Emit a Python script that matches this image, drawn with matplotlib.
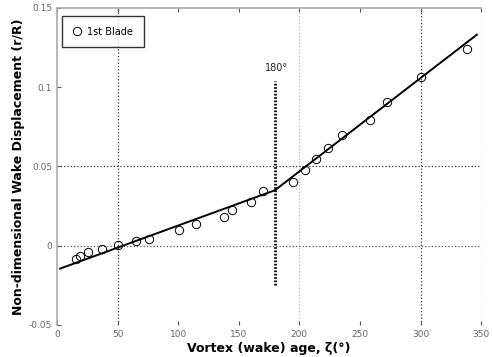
import numpy as np
import matplotlib
matplotlib.use('Agg')
import matplotlib.pyplot as plt

# measured wake displacement, 1st blade
age = [15.4, 19, 25.8, 36.8, 50, 64.9, 76, 101, 114.3, 137.7, 144.5, 159.7,
       169.6, 194.8, 204.5, 213.5, 223.2, 235.5, 258.6, 272.3, 300.6, 338.6]
disp = [-0.0082, -0.0065, -0.004, -0.0019, 0.0002, 0.0027, 0.0044, 0.0097,
        0.0139, 0.018, 0.0227, 0.0275, 0.0343, 0.0404, 0.0475, 0.0545,
        0.0616, 0.070, 0.079, 0.0907, 0.1064, 0.1243]

# piecewise linear fit
fit_x = [2.5, 179.7, 346.5]
fit_y = [-0.0145, 0.0349, 0.1331]

xticks = [0, 50, 100, 150, 200, 250, 300, 350]
yticks = [-0.05, 0, 0.05, 0.1, 0.15]
ytick_labels = ['-0.05', '0', '0.05', '0.1', '0.15']

fig = plt.figure(figsize=(4.92, 3.57), dpi=100)
ax = fig.add_axes([0.116, 0.09, 0.862, 0.888])

# grid lines (dark and faint as in the scan)
for gx, c in [(50, '#333333'), (200, '#bbbbbb'), (300, '#333333'), (350, '#bbbbbb')]:
    ax.axvline(gx, color=c, ls=':', lw=0.9, zorder=1)
for gy, c in [(0, '#555555'), (0.05, '#333333')]:
    ax.axhline(gy, color=c, ls=':', lw=0.9, zorder=1)

# 180 deg marker
ax.plot([180, 180], [-0.025, 0.104], color='black', ls=(0, (0.6, 0.6)), lw=2.0, zorder=2)
ax.text(181, 0.109, '180°', ha='center', va='bottom', fontsize=7, color='#222222')

ax.plot(fit_x, fit_y, color='black', lw=1.4, zorder=3)
ax.plot(age, disp, 'o', mfc='none', mec='black', ms=6, mew=0.7, zorder=4,
        label='1st Blade')

ax.set_xlim(0, 350)
ax.set_ylim(-0.05, 0.15)
ax.set_xticks(xticks)
ax.set_yticks(yticks)
ax.set_yticklabels(ytick_labels)
ax.tick_params(direction='in', length=3, labelsize=6.5, labelcolor='#666666',
               colors='#555555', top=True)

for s in ['top', 'left']:
    ax.spines[s].set_color('#aaaaaa')
    ax.spines[s].set_linewidth(1.2)
for s in ['bottom', 'right']:
    ax.spines[s].set_visible(False)

ax.set_xlabel('Vortex (wake) age, ζ(°)', fontsize=9, fontweight='bold', labelpad=2)
ax.set_ylabel('Non-dimensional Wake Displacement (r/R)', fontsize=9,
              fontweight='bold', labelpad=3)

leg = ax.legend(loc='upper left', fontsize=7, frameon=True, fancybox=False,
                handletextpad=0.5, handlelength=1.0, borderpad=1.1,
                bbox_to_anchor=(0.0, 0.99))
leg.get_frame().set_edgecolor('black')
leg.get_frame().set_linewidth(1.0)

fig.savefig('out.png', dpi=100)
